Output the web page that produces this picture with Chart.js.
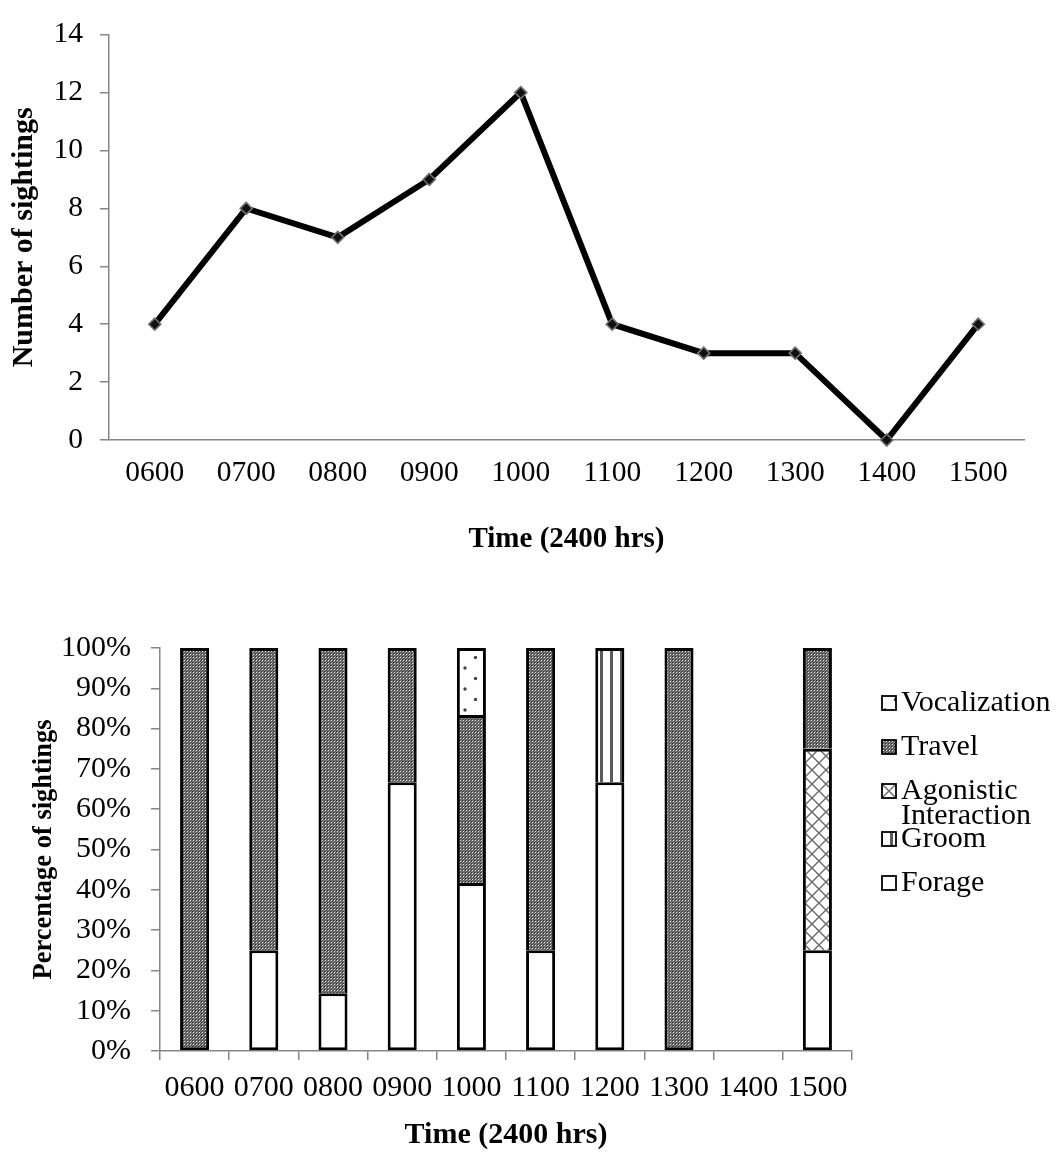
<!DOCTYPE html>
<html><head><meta charset="utf-8">
<script src="https://cdn.jsdelivr.net/npm/chart.js@4.4.1/dist/chart.umd.min.js"></script>
<style>
html,body{margin:0;padding:0;background:#fff;}
#wrap{position:relative;width:1057px;height:1153px;overflow:hidden;}
canvas{position:absolute;left:0;}
#c1{top:0;}
#c2{top:560px;}
</style></head><body>
<div id="wrap">
<canvas id="c1" width="1057" height="560"></canvas>
<canvas id="c2" width="1057" height="593"></canvas>
</div>
<script>
// ---------- data ----------
const times = ['0600','0700','0800','0900','1000','1100','1200','1300','1400','1500'];
const sightings = [4, 8, 7, 9, 12, 4, 3, 3, 0, 4];
const countTicks = [0, 2, 4, 6, 8, 10, 12, 14];

const forage       = [0, 25, 14.3, 66.7, 41.7, 25, 66.7, 0, 0, 25];
const groom        = [0, 0, 0, 0, 0, 0, 33.3, 0, 0, 0];
const agonistic    = [0, 0, 0, 0, 0, 0, 0, 0, 0, 50];
const travel       = [100, 75, 85.7, 33.3, 41.7, 75, 0, 100, 0, 25];
const vocalization = [0, 0, 0, 0, 16.6, 0, 0, 0, 0, 0];
const behaviourLabels = ['Forage', 'Groom', 'Agonistic Interaction', 'Travel', 'Vocalization'];
const percentTicks = [0, 10, 20, 30, 40, 50, 60, 70, 80, 90, 100];

// ---------- styling ----------
const SERIF = '"Liberation Serif","Times New Roman",Times,serif';
Chart.defaults.font.family = SERIF;
Chart.defaults.color = '#000';
Chart.defaults.animation = false;
const AXIS = '#868686';

// ---------- chart 1: line ----------
new Chart(document.getElementById('c1'), {
  type: 'line',
  data: {
    labels: times,
    datasets: [{
      data: sightings,
      borderColor: '#000',
      borderWidth: 6,
      pointStyle: 'rectRot',
      pointRadius: 6,
      pointBackgroundColor: '#111',
      pointBorderColor: '#6f6f6f',
      pointBorderWidth: 1.6,
      tension: 0,
      clip: false
    }]
  },
  options: {
    responsive: false,
    layout: { padding: { top: 25, right: 33, left: 0, bottom: 0 } },
    plugins: { legend: { display: false }, tooltip: { enabled: false } },
    scales: {
      x: {
        offset: true,
        grid: { display: false, drawTicks: false },
        border: { display: true, color: AXIS, width: 1.5 },
        ticks: { font: { size: 29.5, lineHeight: 1.2 }, padding: 15.3, maxRotation: 0, autoSkip: false },
        title: { display: true, text: 'Time (2400 hrs)', font: { size: 29, weight: 'bold', lineHeight: 1.2 }, padding: { top: 0, bottom: 3 } },
        afterFit: s => { s.height = 120; }
      },
      y: {
        min: 0, max: 14,
        afterBuildTicks: s => { s.ticks = countTicks.map(v => ({ value: v })); },
        grid: { display: true, drawOnChartArea: false, drawTicks: true, tickLength: 9, color: AXIS, lineWidth: 1.5 },
        border: { display: true, color: AXIS, width: 1.5 },
        ticks: { font: { size: 29.5, lineHeight: 1.2 }, padding: 17 },
        title: { display: true, text: 'Number of sightings', font: { size: 30, weight: 'bold', lineHeight: 1.2 }, padding: { top: 6, bottom: 0 } },
        afterFit: s => { s.width = 109; }
      }
    }
  }
});

// ---------- patterns ----------
const ctx2 = document.getElementById('c2').getContext('2d');
function tile(w, h, draw) {
  const c = document.createElement('canvas');
  c.width = w; c.height = h;
  const g = c.getContext('2d');
  draw(g, w, h);
  return ctx2.createPattern(c, 'repeat');
}
const patTravel = tile(3, 3, (g) => {
  g.fillStyle = '#5e5e5e'; g.fillRect(0, 0, 3, 3);
  g.fillStyle = '#e6e6e6'; g.fillRect(1, 1, 1, 1);
  g.fillStyle = '#8c8c8c'; g.fillRect(2, 0, 1, 1); g.fillRect(0, 2, 1, 1);
  g.fillStyle = '#2e2e2e'; g.fillRect(0, 0, 1, 1);
});
const patForage = '#ffffff';
const patGroom = tile(10, 4, (g) => {
  g.fillStyle = '#fff'; g.fillRect(0, 0, 10, 4);
  g.fillStyle = '#5a5a5a'; g.fillRect(0, 0, 3, 4);
});
const patAgon = tile(14, 14, (g) => {
  g.fillStyle = '#fff'; g.fillRect(0, 0, 14, 14);
  g.strokeStyle = '#6a6a6a'; g.lineWidth = 1.4;
  g.beginPath();
  g.moveTo(-2, -2); g.lineTo(16, 16);
  g.moveTo(16, -2); g.lineTo(-2, 16);
  g.stroke();
});
const patVoc = tile(21, 21, (g) => {
  g.fillStyle = '#fff'; g.fillRect(0, 0, 21, 21);
  g.fillStyle = '#444';
  g.beginPath(); g.arc(3, 3, 1.7, 0, Math.PI * 2); g.fill();
  g.beginPath(); g.arc(13.5, 13.5, 1.7, 0, Math.PI * 2); g.fill();
});

const stackSeries = [forage, groom, agonistic, travel, vocalization];
const fills = [patForage, patGroom, patAgon, patTravel, patVoc];

function skipFor(dsIndex) {
  return (c) => {
    const i = c.dataIndex;
    for (let k = 0; k < dsIndex; k++) if (stackSeries[k][i] > 0) return 'bottom';
    return false;
  };
}

const legendPlugin = {
  id: 'sideLegend',
  afterDraw(chart) {
    const g = chart.ctx;
    g.save();
    g.font = '30px ' + SERIF;
    g.textBaseline = 'middle';
    g.textAlign = 'left';
    const boxX = 882, boxS = 14, textX = 901, maxW = 1057 - textX - 2;
    let y = 143;
    for (let k = stackSeries.length - 1; k >= 0; k--) {
      const label = behaviourLabels[k];
      const words = label.split(' ');
      const lines = [];
      let cur = '';
      words.forEach(w => {
        const t = cur ? cur + ' ' + w : w;
        if (cur && g.measureText(t).width > maxW) { lines.push(cur); cur = w; } else cur = t;
      });
      lines.push(cur);
      g.fillStyle = fills[k];
      g.fillRect(boxX, y - boxS / 2, boxS, boxS);
      g.strokeStyle = '#000'; g.lineWidth = 1.8;
      g.strokeRect(boxX, y - boxS / 2, boxS, boxS);
      g.fillStyle = '#000';
      lines.forEach((ln, j) => g.fillText(ln, textX, y + j * 25));
      y += 44 + (lines.length - 1) * 4;
    }
    g.restore();
  }
};

new Chart(document.getElementById('c2'), {
  type: 'bar',
  data: {
    labels: times,
    datasets: stackSeries.map((arr, k) => ({
      label: behaviourLabels[k],
      data: arr.map(v => v > 0 ? v : null),
      backgroundColor: fills[k],
      borderColor: '#000',
      borderWidth: 3,
      borderSkipped: skipFor(k),
      barPercentage: 0.42,
      categoryPercentage: 1
    }))
  },
  options: {
    responsive: false,
    layout: { padding: { top: 88, right: 205, left: 0, bottom: 0 } },
    plugins: { legend: { display: false }, tooltip: { enabled: false } },
    scales: {
      x: {
        stacked: true,
        grid: { display: true, drawOnChartArea: false, drawTicks: true, tickLength: 9, color: AXIS, lineWidth: 1.5, offset: true },
        border: { display: true, color: AXIS, width: 1.5 },
        ticks: { font: { size: 30, lineHeight: 1.2 }, padding: 10, maxRotation: 0, autoSkip: false },
        title: { display: true, text: 'Time (2400 hrs)', font: { size: 30, weight: 'bold', lineHeight: 1.2 }, padding: { top: 0, bottom: 0 } },
        afterFit: s => { s.height = 102; }
      },
      y: {
        stacked: true,
        min: 0, max: 100,
        afterBuildTicks: s => { s.ticks = percentTicks.map(v => ({ value: v })); },
        grid: { display: true, drawOnChartArea: false, drawTicks: true, tickLength: 9, color: AXIS, lineWidth: 1.5 },
        border: { display: true, color: AXIS, width: 1.5 },
        ticks: { font: { size: 30, lineHeight: 1.2 }, padding: 20, callback: v => v + '%' },
        title: { display: true, text: 'Percentage of sightings', font: { size: 26.5, weight: 'bold', lineHeight: 1.2 }, padding: { top: 28, bottom: 0 } },
        afterFit: s => { s.width = 160; }
      }
    }
  },
  plugins: [legendPlugin]
});
</script>
</body></html>
